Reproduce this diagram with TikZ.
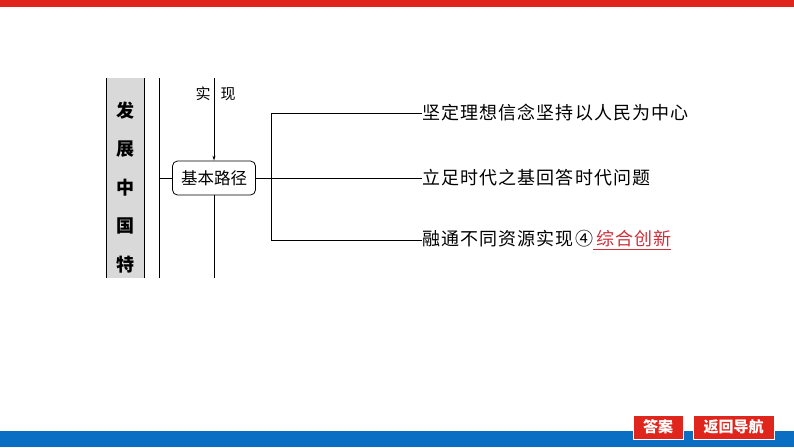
\documentclass[tikz,border=0pt]{standalone}
\usepackage{xcolor}
\usepackage{fontspec}
\setmainfont{Noto Sans CJK SC}
\newfontfamily\cjk{Noto Sans CJK SC}
\usepackage{tikz}
\usetikzlibrary{positioning,arrows.meta}
\definecolor{barred}{HTML}{E0261C}
\definecolor{barblue}{HTML}{0A6FC2}
\definecolor{ansred}{HTML}{D0303A}
\definecolor{sidegray}{HTML}{D9D9D9}

\begin{document}
\begin{tikzpicture}[x=1pt,y=-1pt,line width=0.8pt,
    side/.style={font=\fontsize{18}{18}\selectfont\bfseries},
    item/.style={anchor=west,inner sep=0pt,font=\fontsize{18}{18}\selectfont\addfontfeature{LetterSpace=6}},
    pathbox/.style={draw,rounded corners=5pt,minimum width=83pt,minimum height=34pt,inner sep=0pt,font=\fontsize{16.5}{16.5}\selectfont},
    btn/.style={fill=barred,draw=white,line width=0.8pt,text=white,minimum height=24pt,inner sep=0pt,font=\fontsize{15}{15}\selectfont\bfseries}]
    \useasboundingbox (0,0) rectangle (794,447);
    % bars
    \fill[barred] (0,0) rectangle (794,7);
    \fill[barblue] (0,431) rectangle (794,447);
    \node[btn,minimum width=50pt] (ans) at (658,427) {答案};
    \node[btn,minimum width=81pt] (back) at (733.5,427) {返回导航};
    % side column
    \fill[sidegray] (106,78) rectangle (144,278);
    \draw (106,78) -- (106,278);
    \draw (144,78) -- (144,278);
    \foreach \c [count=\i] in {发,展,中,国,特} \node[side] (s\i) at (125,72+38.5*\i) {\c};
    % trunk
    \coordinate (trunkT) at (159,78);
    \coordinate (trunkB) at (159,278);
    \draw (trunkT) -- (trunkB);
    \node[pathbox] (path) at (214,178) {基本路径};
    \draw (trunkT |- path.west) -- (path.west);
    \coordinate (arrT) at (214,78);
    \coordinate (arrB) at (214,278);
    \draw[-{Stealth[length=5pt,width=3pt]}] (arrT) -- (path.north);
    \draw (path.south) -- (arrB);
    \node[font=\fontsize{15}{15}\selectfont] (shi) at (203,94) {实};
    \node[font=\fontsize{15}{15}\selectfont] (xian) at (228,94) {现};
    % branches
    \coordinate (brT) at (271,113);
    \coordinate (brB) at (271,240);
    \draw (path.east) -- (brT |- path.east);
    \draw (brT) -- (brB);
    \node[item] (i1) at (422,113) {坚定理想信念坚持以人民为中心};
    \node[item] (i2) at (422,178) {立足时代之基回答时代问题};
    \node[item] (i3) at (422,240) {融通不同资源实现④\textcolor{ansred}{\underline{\,综合创新}}};
    \foreach \i in {1,2,3} \draw (brT |- i\i.west) -- (i\i.west);
  \end{tikzpicture}
\end{document}
